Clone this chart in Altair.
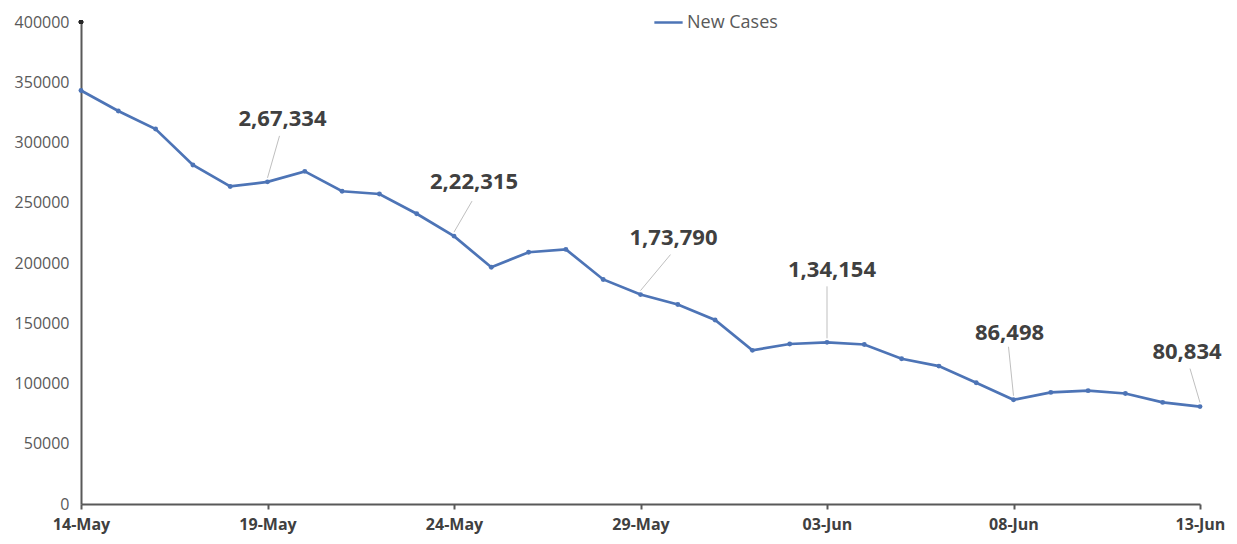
import altair as alt
import pandas as pd

# ---- data ----
dates = pd.date_range("2021-05-14", "2021-06-13").strftime("%Y-%m-%d").tolist()
new_cases = [343144, 326098, 311170, 281386, 263533, 267334, 276070, 259551, 257299, 240842,
             222315, 196427, 208921, 211298, 186364, 173790, 165553, 152734, 127510, 132788,
             134154, 132364, 120529, 114460, 100636, 86498, 92596, 94052, 91702, 84332, 80834]
series_name = "New Cases"
tick_dates = ["2021-05-14", "2021-05-19", "2021-05-24", "2021-05-29", "2021-06-03", "2021-06-08", "2021-06-13"]
y_ticks = [0, 50000, 100000, 150000, 200000, 250000, 300000, 350000, 400000]
annotated_idx = [5, 10, 15, 20, 25, 30]


def indian(n):
    s = str(n)
    if len(s) <= 3:
        return s
    last3 = s[-3:]
    rest = s[:-3]
    parts = []
    while len(rest) > 2:
        parts.insert(0, rest[-2:])
        rest = rest[:-2]
    if rest:
        parts.insert(0, rest)
    return ",".join(parts + [last3])


df = pd.DataFrame({"date": dates, "cases": new_cases, "series": series_name})
ann = pd.DataFrame({
    "date": [dates[i] for i in annotated_idx],
    "cases": [new_cases[i] for i in annotated_idx],
    "label": [indian(new_cases[i]) for i in annotated_idx],
})

# styles: (text dx, text dy, leader x2Offset, leader y2Offset)
ann_style = [(15, -63, 12, -46), (20, -54, 18, -35), (33, -57, 30, -40),
             (5, -72, 0, -56), (-4, -67, -5, -53), (-13, -55, -10, -38)]

BLUE = "#4d74b6"
AXIS = "#595959"

x_scale = alt.Scale(type="utc", domain=[dates[0], dates[-1]], nice=False)
y_scale = alt.Scale(domain=[0, 400000], nice=False)

x_axis = alt.Axis(title=None, values=[alt.DateTime(year=int(d[:4]), month=int(d[5:7]), date=int(d[8:]), utc=True) for d in tick_dates],
                  labelExpr="utcFormat(datum.value, '%d-%b')", grid=False,
                  domainColor=AXIS, domainWidth=2, tickColor=AXIS, tickWidth=2, tickSize=5,
                  labelFont="Open Sans", labelFontWeight="bold", labelFontSize=16,
                  labelColor="#404040", labelPadding=7, labelFlush=False)
y_axis = alt.Axis(title=None, values=y_ticks, format="d", grid=False, ticks=False,
                  domainColor=AXIS, domainWidth=2,
                  labelFont="Open Sans", labelFontSize=16, labelColor=AXIS, labelPadding=12)

x_enc = alt.X("date:T", scale=x_scale, axis=x_axis)
y_enc = alt.Y("cases:Q", scale=y_scale, axis=y_axis)

line = alt.Chart(df).mark_line(strokeWidth=2.7, point=alt.OverlayMarkDef(size=24, filled=True, color="#3f63a3")).encode(
    x=x_enc, y=y_enc,
    color=alt.Color("series:N", scale=alt.Scale(range=[BLUE]),
                    legend=alt.Legend(title=None, orient="none", legendX=572, legendY=-15,
                                      symbolType="stroke", symbolStrokeWidth=2.5, symbolSize=800,
                                      labelFont="Open Sans", labelFontSize=18, labelColor=AXIS,
                                      labelOffset=3)),
)

layers = [line]
for i, (tdx, tdy, lx2, ly2) in enumerate(ann_style):
    sub = ann.iloc[[i]]
    rule = alt.Chart(sub).mark_rule(color="#bfbfbf", strokeWidth=1, yOffset=-4,
                                    x2Offset=lx2, y2Offset=ly2).encode(
        x=x_enc, y=y_enc, x2="date:T", y2="cases:Q")
    text = alt.Chart(sub).mark_text(font="Open Sans", fontWeight="bold", fontSize=22,
                                    color="#404040", dx=tdx, dy=tdy, baseline="middle",
                                    align="center").encode(
        x=x_enc, y=y_enc, text="label:N")
    layers += [rule, text]

top_dot = alt.Chart(df).mark_point(filled=True, color="#262626", size=18, opacity=1).encode(
    x=alt.value(0), y=alt.value(0))
layers.append(top_dot)

chart = alt.layer(*layers).properties(
    width=1119, height=482,
    padding={"left": 73, "top": 14, "right": 25, "bottom": 36},
    autosize=alt.AutoSizeParams(type="none"),
    background="white",
).configure_view(strokeWidth=0, stroke="transparent")

chart.save("out.html", embed_options={"renderer": "svg", "actions": False})
